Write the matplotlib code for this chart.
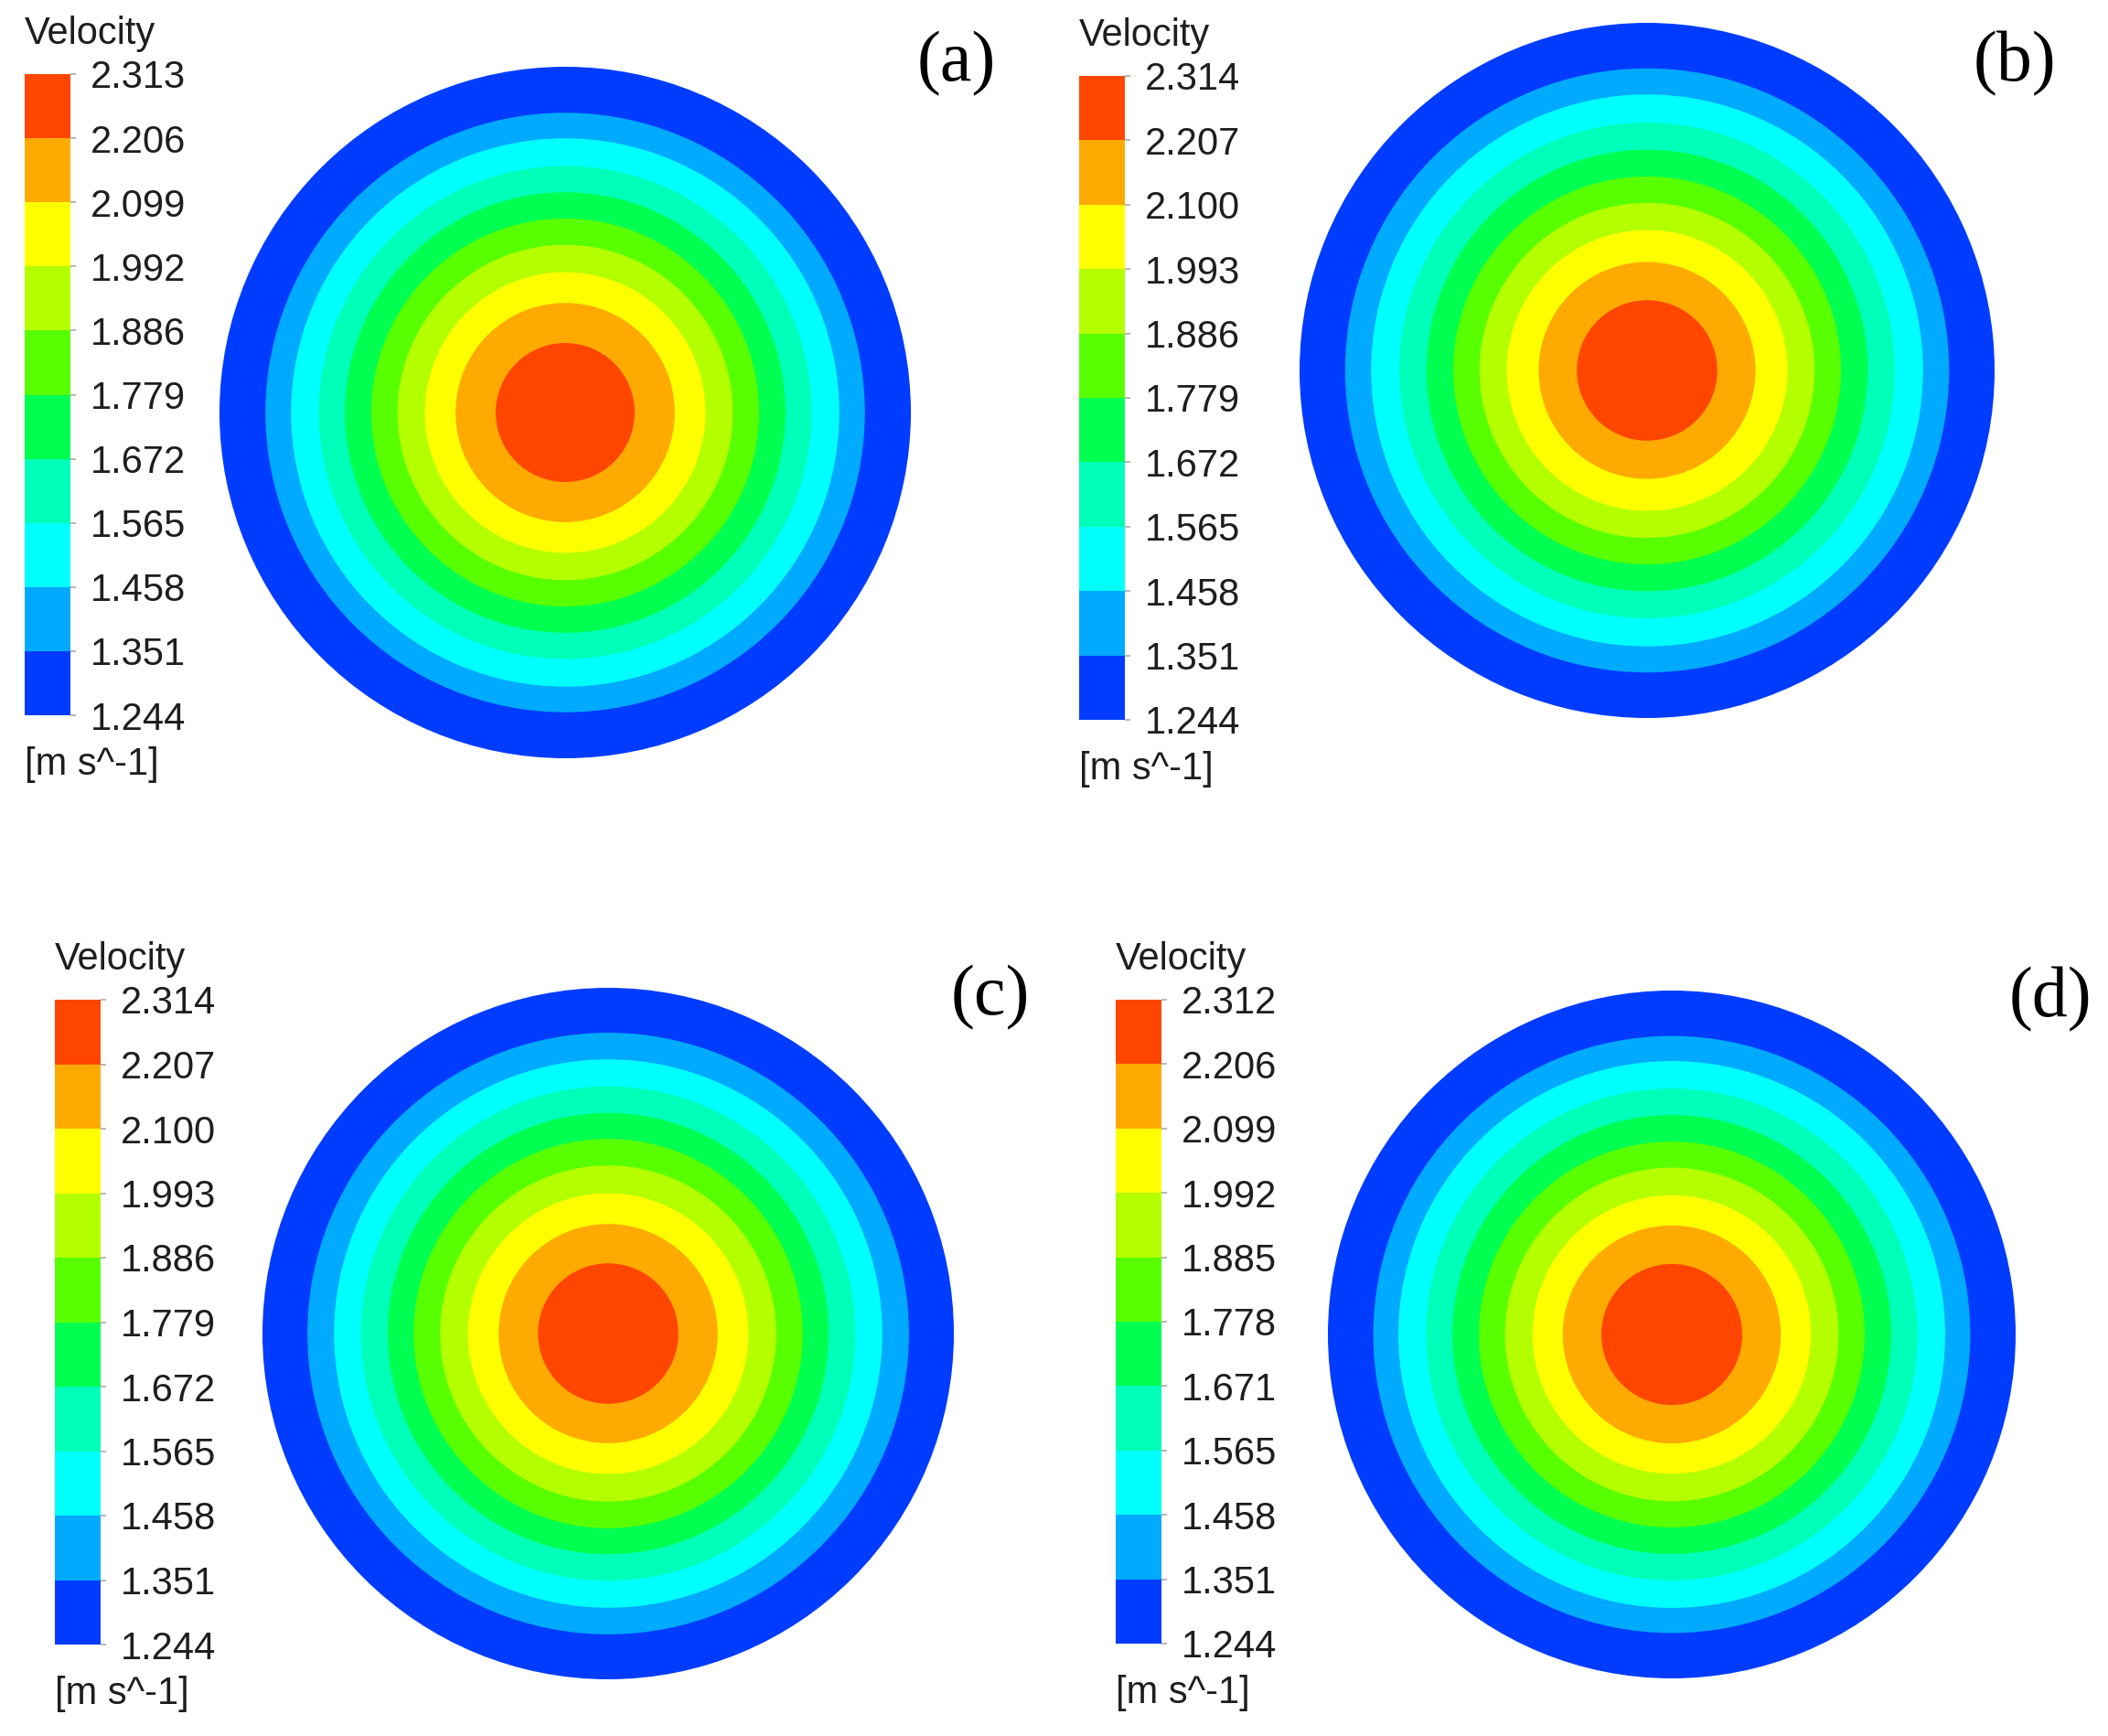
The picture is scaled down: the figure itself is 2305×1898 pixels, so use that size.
import matplotlib
import matplotlib.pyplot as plt
from matplotlib.cm import ScalarMappable
from matplotlib.colors import BoundaryNorm, ListedColormap
from matplotlib.patches import Circle

matplotlib.use("Agg")

W, H = 2305, 1898

# band colours, lowest band first
band_colors = ["#003cff", "#00aaff", "#00ffff", "#00ffb8", "#00ff50",
               "#58ff00", "#b4ff00", "#ffff00", "#ffaa00", "#ff4600"]

# legend levels of each case
levels_a = [1.244, 1.351, 1.458, 1.565, 1.672, 1.779, 1.886, 1.992, 2.099, 2.206, 2.313]
levels_b = [1.244, 1.351, 1.458, 1.565, 1.672, 1.779, 1.886, 1.993, 2.100, 2.207, 2.314]
levels_c = [1.244, 1.351, 1.458, 1.565, 1.672, 1.779, 1.886, 1.993, 2.100, 2.207, 2.314]
levels_d = [1.244, 1.351, 1.458, 1.565, 1.671, 1.778, 1.885, 1.992, 2.099, 2.206, 2.312]

# radius (r/R) where each band starts
radius_a = [1.000, 0.867, 0.793, 0.713, 0.637, 0.561, 0.485, 0.406, 0.317, 0.201]
radius_b = [1.000, 0.869, 0.794, 0.713, 0.635, 0.558, 0.482, 0.404, 0.312, 0.202]
radius_c = [1.000, 0.870, 0.793, 0.715, 0.638, 0.563, 0.486, 0.406, 0.317, 0.203]
radius_d = [1.000, 0.868, 0.795, 0.715, 0.638, 0.561, 0.485, 0.405, 0.317, 0.205]

panel_names = ["(a)", "(b)", "(c)", "(d)"]
var_name = "Velocity"
unit_name = "[m s^-1]"

# pixel layout: bar left, bar top, bar bottom, circle cx, cy, r, label x, label y
layout = [
    (27, 81, 782, 618, 451, 378, 1046, 70),
    (1180, 83, 787, 1801, 405, 380, 2203, 70),
    (60, 1093, 1798, 665, 1458, 378, 1083, 1091),
    (1220, 1093, 1797, 1828, 1459, 376, 2242, 1093),
]

SANS = ["Liberation Sans", "DejaVu Sans"]
SERIF = ["Liberation Serif", "DejaVu Serif"]


def px_rect(x0, y0, x1, y1):
    return [x0 / W, 1 - y1 / H, (x1 - x0) / W, (y1 - y0) / H]


fig = plt.figure(figsize=(W / 100, H / 100), dpi=100)
fig.patch.set_facecolor("white")

cmap = ListedColormap(band_colors)
all_levels = [levels_a, levels_b, levels_c, levels_d]
all_radius = [radius_a, radius_b, radius_c, radius_d]

for name, levels, radius, lay in zip(panel_names, all_levels, all_radius, layout):
    bx, btop, bbot, cx, cy, r, lx, ly = lay

    # contour disc
    ax = fig.add_axes(px_rect(cx - r, cy - r, cx + r, cy + r))
    ax.set_xlim(-1, 1)
    ax.set_ylim(-1, 1)
    ax.set_aspect("equal")
    ax.axis("off")
    for rad, col in zip(radius, band_colors):
        ax.add_patch(Circle((0, 0), rad, facecolor=col, edgecolor="none", lw=0))

    # legend bar
    cax = fig.add_axes(px_rect(bx, btop, bx + 50, bbot))
    norm = BoundaryNorm(levels, cmap.N)
    cb = fig.colorbar(ScalarMappable(norm=norm, cmap=cmap), cax=cax, ticks=levels, spacing="uniform")
    cb.outline.set_visible(False)
    cax.set_yticklabels([f"{v:.3f}" for v in levels])
    cax.tick_params(axis="y", length=4, width=1.2, color="#aaaaaa", pad=12,
                    labelsize=30, labelcolor="#1e1e1e")
    for t in cax.get_yticklabels():
        t.set_family(SANS)

    fig.text(bx / W, 1 - (btop - 44) / H, var_name, ha="left", va="center",
             fontsize=30, color="#1e1e1e", family=SANS)
    fig.text(bx / W, 1 - (bbot + 54) / H, unit_name, ha="left", va="center",
             fontsize=30, color="#1e1e1e", family=SANS)
    fig.text(lx / W, 1 - ly / H, name, ha="center", va="center",
             fontsize=56, color="black", family=SERIF)

fig.savefig("out.png", dpi=100, facecolor="white")
plt.close(fig)
